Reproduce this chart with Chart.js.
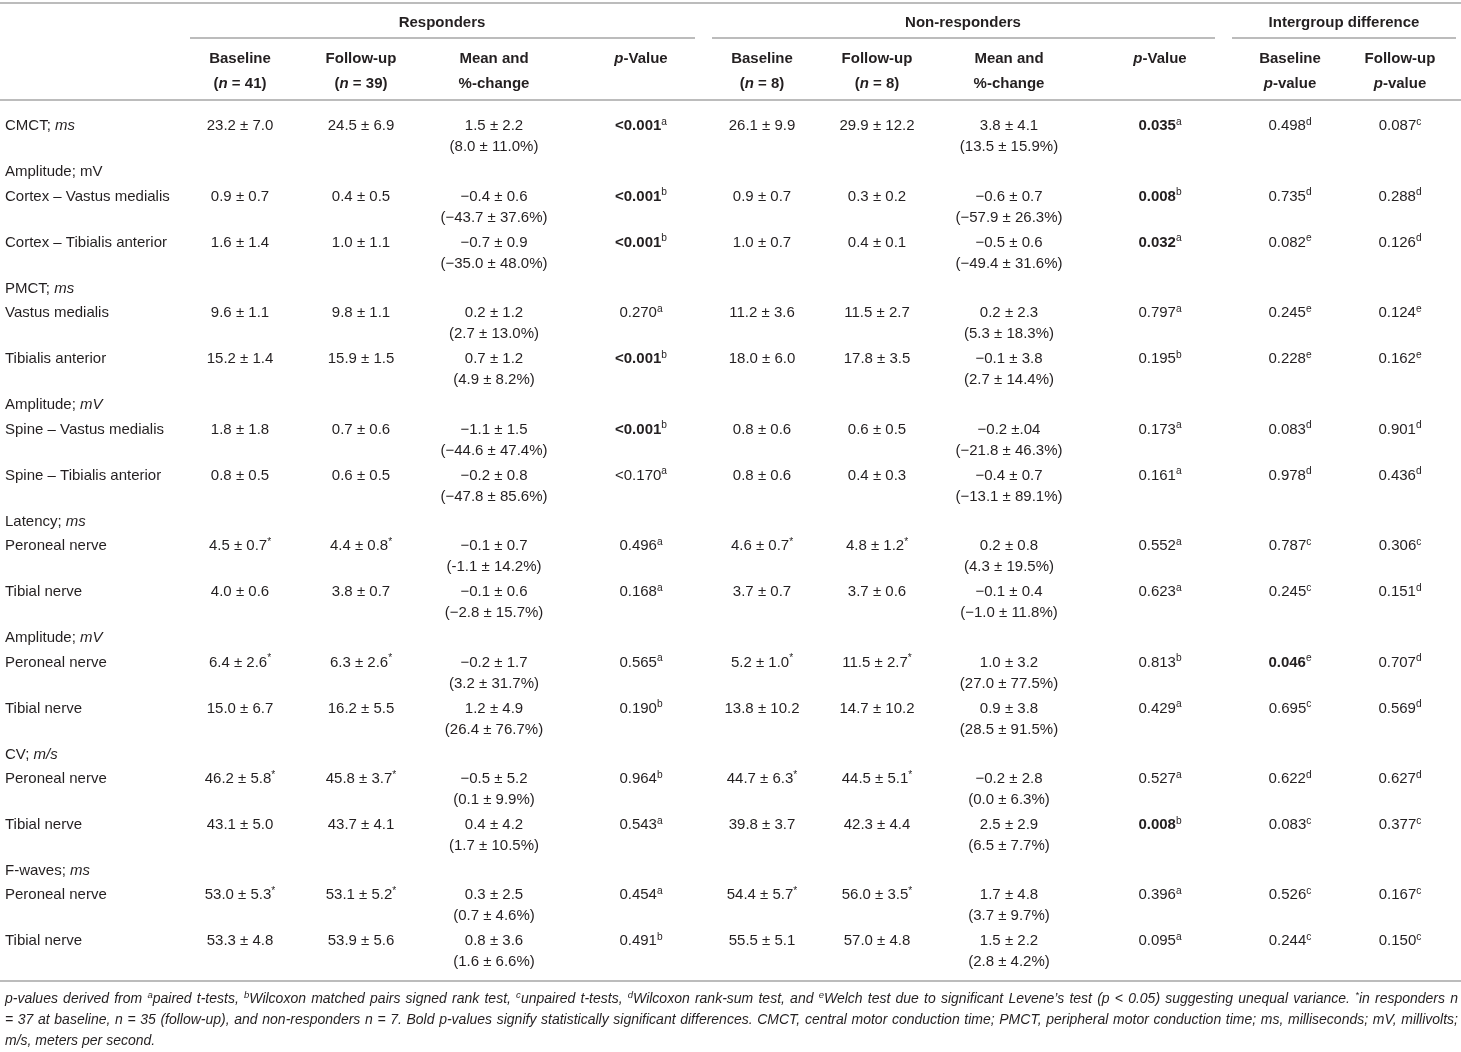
<!DOCTYPE html>
<html>
<head>
<meta charset="utf-8">
<script src="https://cdn.jsdelivr.net/npm/chart.js@4.4.1/dist/chart.umd.min.js"></script>
<style>
  html, body { margin: 0; padding: 0; background: #fff; }
  #wrap { width: 1461px; height: 1052px; }
</style>
</head>
<body>
<div id="wrap"><canvas id="table"></canvas></div>
<script>
// markup: ~bold~  _italic_  ^x superscript (one char)

const groups = ['~Responders~', '~Non-responders~', '~Intergroup difference~'];

const headTop = ['~Baseline~', '~Follow-up~', '~Mean and~', '~_p_-Value~',
                 '~Baseline~', '~Follow-up~', '~Mean and~', '~_p_-Value~',
                 '~Baseline~', '~Follow-up~'];
const headBottom = ['~(_n_ = 41)~', '~(_n_ = 39)~', '~%-change~', '',
                    '~(_n_ = 8)~', '~(_n_ = 8)~', '~%-change~', '',
                    '~_p_-value~', '~_p_-value~'];

const measures = ['CMCT; _ms_', 'Cortex – Vastus medialis', 'Cortex – Tibialis anterior',
  'Vastus medialis', 'Tibialis anterior', 'Spine – Vastus medialis', 'Spine – Tibialis anterior',
  'Peroneal nerve', 'Tibial nerve', 'Peroneal nerve', 'Tibial nerve',
  'Peroneal nerve', 'Tibial nerve', 'Peroneal nerve', 'Tibial nerve'];

// section title rows, shown before the measure with the given index
const sectionTitles = ['Amplitude; mV', 'PMCT; _ms_', 'Amplitude; _mV_', 'Latency; _ms_',
  'Amplitude; _mV_', 'CV; _m/s_', 'F-waves; _ms_'];
const sectionStarts = [1, 3, 5, 7, 9, 11, 13];

// responders
const rBaseline = ['23.2 ± 7.0', '0.9 ± 0.7', '1.6 ± 1.4', '9.6 ± 1.1', '15.2 ± 1.4', '1.8 ± 1.8',
  '0.8 ± 0.5', '4.5 ± 0.7^*', '4.0 ± 0.6', '6.4 ± 2.6^*', '15.0 ± 6.7', '46.2 ± 5.8^*',
  '43.1 ± 5.0', '53.0 ± 5.3^*', '53.3 ± 4.8'];
const rFollowUp = ['24.5 ± 6.9', '0.4 ± 0.5', '1.0 ± 1.1', '9.8 ± 1.1', '15.9 ± 1.5', '0.7 ± 0.6',
  '0.6 ± 0.5', '4.4 ± 0.8^*', '3.8 ± 0.7', '6.3 ± 2.6^*', '16.2 ± 5.5', '45.8 ± 3.7^*',
  '43.7 ± 4.1', '53.1 ± 5.2^*', '53.9 ± 5.6'];
const rMean = ['1.5 ± 2.2', '−0.4 ± 0.6', '−0.7 ± 0.9', '0.2 ± 1.2', '0.7 ± 1.2', '−1.1 ± 1.5',
  '−0.2 ± 0.8', '−0.1 ± 0.7', '−0.1 ± 0.6', '−0.2 ± 1.7', '1.2 ± 4.9', '−0.5 ± 5.2',
  '0.4 ± 4.2', '0.3 ± 2.5', '0.8 ± 3.6'];
const rChange = ['(8.0 ± 11.0%)', '(−43.7 ± 37.6%)', '(−35.0 ± 48.0%)', '(2.7 ± 13.0%)',
  '(4.9 ± 8.2%)', '(−44.6 ± 47.4%)', '(−47.8 ± 85.6%)', '(-1.1 ± 14.2%)', '(−2.8 ± 15.7%)',
  '(3.2 ± 31.7%)', '(26.4 ± 76.7%)', '(0.1 ± 9.9%)', '(1.7 ± 10.5%)', '(0.7 ± 4.6%)',
  '(1.6 ± 6.6%)'];
const rP = ['~<0.001~^a', '~<0.001~^b', '~<0.001~^b', '0.270^a', '~<0.001~^b', '~<0.001~^b',
  '<0.170^a', '0.496^a', '0.168^a', '0.565^a', '0.190^b', '0.964^b', '0.543^a', '0.454^a',
  '0.491^b'];

// non-responders
const nBaseline = ['26.1 ± 9.9', '0.9 ± 0.7', '1.0 ± 0.7', '11.2 ± 3.6', '18.0 ± 6.0', '0.8 ± 0.6',
  '0.8 ± 0.6', '4.6 ± 0.7^*', '3.7 ± 0.7', '5.2 ± 1.0^*', '13.8 ± 10.2', '44.7 ± 6.3^*',
  '39.8 ± 3.7', '54.4 ± 5.7^*', '55.5 ± 5.1'];
const nFollowUp = ['29.9 ± 12.2', '0.3 ± 0.2', '0.4 ± 0.1', '11.5 ± 2.7', '17.8 ± 3.5', '0.6 ± 0.5',
  '0.4 ± 0.3', '4.8 ± 1.2^*', '3.7 ± 0.6', '11.5 ± 2.7^*', '14.7 ± 10.2', '44.5 ± 5.1^*',
  '42.3 ± 4.4', '56.0 ± 3.5^*', '57.0 ± 4.8'];
const nMean = ['3.8 ± 4.1', '−0.6 ± 0.7', '−0.5 ± 0.6', '0.2 ± 2.3', '−0.1 ± 3.8', '−0.2 ±.04',
  '−0.4 ± 0.7', '0.2 ± 0.8', '−0.1 ± 0.4', '1.0 ± 3.2', '0.9 ± 3.8', '−0.2 ± 2.8',
  '2.5 ± 2.9', '1.7 ± 4.8', '1.5 ± 2.2'];
const nChange = ['(13.5 ± 15.9%)', '(−57.9 ± 26.3%)', '(−49.4 ± 31.6%)', '(5.3 ± 18.3%)',
  '(2.7 ± 14.4%)', '(−21.8 ± 46.3%)', '(−13.1 ± 89.1%)', '(4.3 ± 19.5%)', '(−1.0 ± 11.8%)',
  '(27.0 ± 77.5%)', '(28.5 ± 91.5%)', '(0.0 ± 6.3%)', '(6.5 ± 7.7%)', '(3.7 ± 9.7%)',
  '(2.8 ± 4.2%)'];
const nP = ['~0.035~^a', '~0.008~^b', '~0.032~^a', '0.797^a', '0.195^b', '0.173^a', '0.161^a',
  '0.552^a', '0.623^a', '0.813^b', '0.429^a', '0.527^a', '~0.008~^b', '0.396^a', '0.095^a'];

// intergroup difference
const igBaseline = ['0.498^d', '0.735^d', '0.082^e', '0.245^e', '0.228^e', '0.083^d', '0.978^d',
  '0.787^c', '0.245^c', '~0.046~^e', '0.695^c', '0.622^d', '0.083^c', '0.526^c', '0.244^c'];
const igFollowUp = ['0.087^c', '0.288^d', '0.126^d', '0.124^e', '0.162^e', '0.901^d', '0.436^d',
  '0.306^c', '0.151^d', '0.707^d', '0.569^d', '0.627^d', '0.377^c', '0.167^c', '0.150^c'];

const notes = [
  'p-values derived from ^apaired t-tests, ^bWilcoxon matched pairs signed rank test, ^cunpaired t-tests, ^dWilcoxon rank-sum test, and ^eWelch test due to significant Levene’s test (p < 0.05) suggesting unequal variance. ^*in responders n',
  '= 37 at baseline, n = 35 (follow-up), and non-responders n = 7. Bold p-values signify statistically significant differences. CMCT, central motor conduction time; PMCT, peripheral motor conduction time; ms, milliseconds; mV, millivolts;',
  'm/s, meters per second.'
];

// ---- layout, in table units (same size as the page) ----
const valueCols = [rBaseline, rFollowUp, rMean, rP, nBaseline, nFollowUp, nMean, nP, igBaseline, igFollowUp];
const subLines = { 2: rChange, 6: nChange };
const colX = [240, 361, 494, 641, 762, 877, 1009, 1160, 1290, 1400];
const labelX = 5;
const groupX = [442, 963, 1344];
const groupRules = [[190, 695], [712, 1215], [1232, 1456]];
const LEVEL = { top: 3, group: 22, groupRule: 38, head1: 58, head2: 83, headRule: 100,
  body: 125, rowStep: 46, sectionStep: 24.43, subLine: 21,
  bottomRule: 981, note: 998, noteGap: 21 };
const FONT = 15;
const INK = '#231f20';
const RULE = '#bcbcbc';

// vertical slot of every measure and section row
const measureLine = [];
const sectionLine = [];
let cursor = LEVEL.body;
measures.forEach((m, i) => {
  const s = sectionStarts.indexOf(i);
  if (s >= 0) { sectionLine[s] = cursor; cursor += LEVEL.sectionStep; }
  measureLine[i] = cursor;
  cursor += LEVEL.rowStep;
});

function parse(str, italic) {
  const segs = [];
  let bold = false, ital = !!italic, buf = '';
  const flush = () => { if (buf) segs.push({ t: buf, bold, ital, sup: false }); buf = ''; };
  for (let k = 0; k < str.length; k++) {
    const c = str[k];
    if (c === '~') { flush(); bold = !bold; }
    else if (c === '_') { flush(); ital = !ital; }
    else if (c === '^') { flush(); segs.push({ t: str[k + 1], bold, ital, sup: true }); k++; }
    else buf += c;
  }
  flush();
  return segs;
}

function fontOf(s, size) {
  const sz = s.sup ? size * 0.68 : size;
  return (s.ital ? 'italic ' : '') + (s.bold ? 'bold ' : '') + sz + 'px "Liberation Sans", Arial, sans-serif';
}

function drawRich(ctx, str, x, y, align, opts = {}) {
  const size = opts.size || FONT;
  const segs = parse(str, opts.italic);
  const widths = segs.map(s => { ctx.font = fontOf(s, size); return ctx.measureText(s.t).width; });
  const total = widths.reduce((a, b) => a + b, 0);
  let extra = 0;
  if (opts.justify) {
    const spaces = segs.reduce((n, s) => n + (s.sup ? 0 : (s.t.match(/ /g) || []).length), 0);
    extra = spaces ? (opts.justify - total) / spaces : 0;
  }
  let cx = align === 'center' ? x - total / 2 : x;
  const base = y + size * 0.36;
  ctx.fillStyle = INK;
  ctx.textBaseline = 'alphabetic';
  ctx.textAlign = 'left';
  segs.forEach((s, i) => {
    ctx.font = fontOf(s, size);
    const dy = s.sup ? -size * 0.36 : 0;
    if (extra && !s.sup) {
      s.t.split(' ').forEach((w, j, arr) => {
        ctx.fillText(w, cx, base + dy);
        cx += ctx.measureText(w).width;
        if (j < arr.length - 1) cx += ctx.measureText(' ').width + extra;
      });
    } else {
      ctx.fillText(s.t, cx, base + dy);
      cx += widths[i];
    }
  });
}

const tablePlugin = {
  id: 'tableText',
  afterDraw(chart) {
    const ctx = chart.ctx;
    const xs = chart.scales.x, ys = chart.scales.y;
    ctx.save();

    // rules
    ctx.strokeStyle = RULE;
    ctx.lineWidth = 2;
    const hline = (x0, x1, v) => {
      const py = Math.round(ys.getPixelForValue(v));
      ctx.beginPath();
      ctx.moveTo(xs.getPixelForValue(x0), py);
      ctx.lineTo(xs.getPixelForValue(x1), py);
      ctx.stroke();
    };
    hline(0, 1461, LEVEL.top);
    groupRules.forEach(r => hline(r[0], r[1], LEVEL.groupRule));
    hline(0, 1461, LEVEL.headRule);
    hline(0, 1461, LEVEL.bottomRule);

    // header
    groups.forEach((g, i) => drawRich(ctx, g, xs.getPixelForValue(groupX[i]), ys.getPixelForValue(LEVEL.group), 'center'));
    headTop.forEach((h, i) => {
      drawRich(ctx, h, xs.getPixelForValue(colX[i]), ys.getPixelForValue(LEVEL.head1), 'center');
      drawRich(ctx, headBottom[i], xs.getPixelForValue(colX[i]), ys.getPixelForValue(LEVEL.head2), 'center');
    });

    // section rows
    sectionTitles.forEach((t, i) =>
      drawRich(ctx, t, xs.getPixelForValue(labelX), ys.getPixelForValue(sectionLine[i]), 'left'));

    // body cells, placed at their dataset points
    chart.data.datasets.forEach((ds, di) => {
      const meta = chart.getDatasetMeta(di);
      meta.data.forEach((pt, i) => {
        drawRich(ctx, ds.cells[i], pt.x, pt.y, ds.cellAlign);
        if (ds.second) {
          drawRich(ctx, ds.second[i], pt.x, ys.getPixelForValue(measureLine[i] + LEVEL.subLine), ds.cellAlign);
        }
      });
    });

    // footnote
    const left = xs.getPixelForValue(labelX);
    const right = xs.getPixelForValue(1458);
    notes.forEach((n, i) => {
      const py = ys.getPixelForValue(LEVEL.note + i * LEVEL.noteGap);
      drawRich(ctx, n, left, py, 'left', { size: 14, italic: true, justify: i < notes.length - 1 ? right - left : 0 });
    });
    ctx.restore();
  }
};

const datasets = [{
  label: 'measure',
  cells: measures,
  cellAlign: 'left',
  data: measures.map((m, i) => ({ x: labelX, y: measureLine[i] })),
  pointRadius: 0
}].concat(valueCols.map((col, c) => ({
  label: 'col' + c,
  cells: col,
  second: subLines[c],
  cellAlign: 'center',
  data: col.map((v, i) => ({ x: colX[c], y: measureLine[i] })),
  pointRadius: 0
})));

new Chart(document.getElementById('table'), {
  type: 'scatter',
  data: { datasets },
  options: {
    responsive: true,
    maintainAspectRatio: false,
    animation: false,
    layout: { padding: 0 },
    plugins: { legend: { display: false }, tooltip: { enabled: false } },
    events: [],
    scales: {
      x: { type: 'linear', min: 0, max: 1461, display: false },
      y: { type: 'linear', min: 0, max: 1052, reverse: true, display: false }
    }
  },
  plugins: [tablePlugin]
});
</script>
</body>
</html>
